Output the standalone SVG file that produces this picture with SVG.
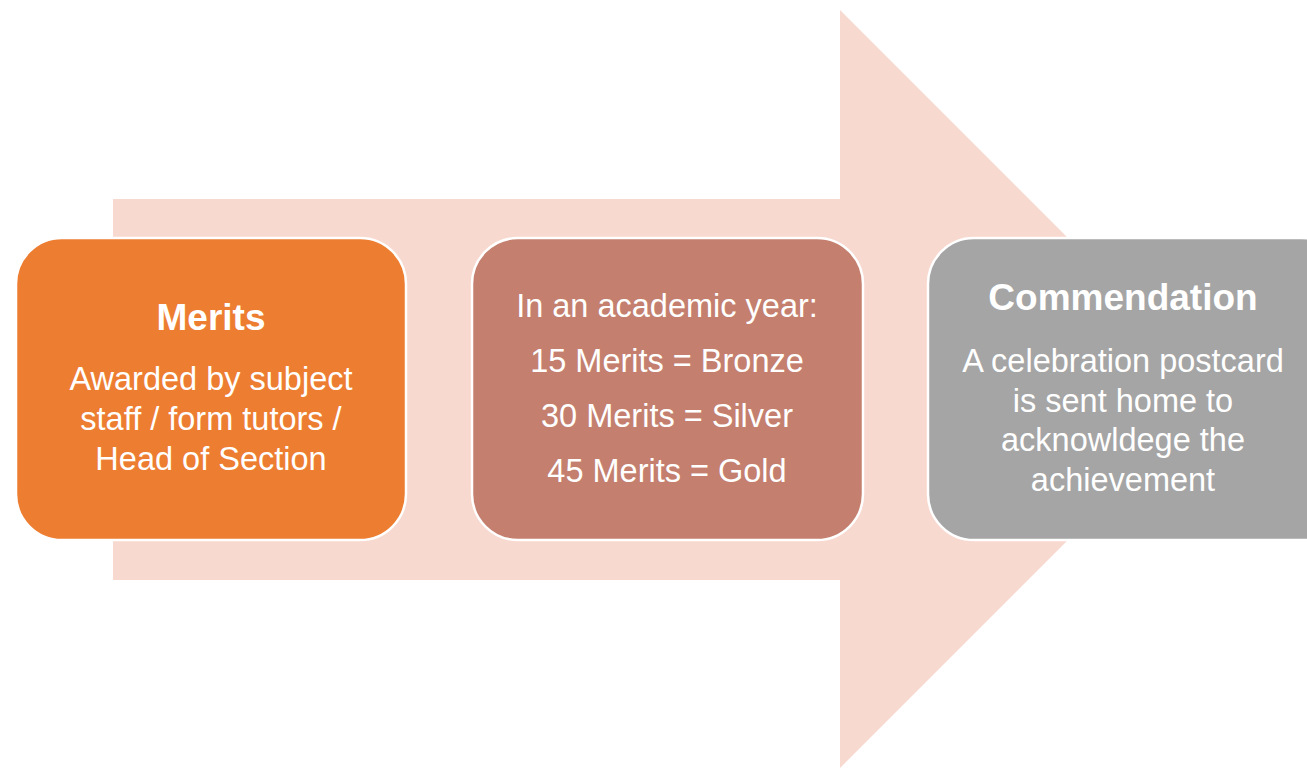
<svg xmlns="http://www.w3.org/2000/svg" width="1307" height="770" viewBox="0 0 1307 770">
  <style>
    .box { stroke: #ffffff; stroke-width: 2.5; }
    .t { font-family: "Liberation Sans", Arial, sans-serif; fill: #ffffff; text-anchor: middle; }
    .title { font-size: 37px; font-weight: bold; }
    .body { font-size: 32.5px; }
  </style>
  <rect width="1307" height="770" fill="#ffffff"/>
  <g id="connectors">
    <polygon id="big-arrow" points="113,199 840,199 840,10 1219,389 840,768 840,580 113,580" fill="#F8D9CF"/>
  </g>
  <g id="node-merits">
    <rect class="box" x="16" y="238" width="390" height="302" rx="46" ry="46" fill="#ED7D31"/>
    <text class="t title" x="211" y="330">Merits</text>
    <text class="t body" x="211" y="390">Awarded by subject</text>
    <text class="t body" x="211" y="430">staff / form tutors /</text>
    <text class="t body" x="211" y="470">Head of Section</text>
  </g>
  <g id="node-year">
    <rect class="box" x="472" y="238" width="391" height="302" rx="46" ry="46" fill="#C47F6E"/>
    <text class="t body" x="667" y="317">In an academic year:</text>
    <text class="t body" x="667" y="372">15 Merits = Bronze</text>
    <text class="t body" x="667" y="427">30 Merits = Silver</text>
    <text class="t body" x="667" y="482">45 Merits = Gold</text>
  </g>
  <g id="node-commendation">
    <rect class="box" x="928" y="238" width="420" height="302" rx="46" ry="46" fill="#A5A5A5"/>
    <text class="t title" x="1123" y="310">Commendation</text>
    <text class="t body" x="1123" y="372">A celebration postcard</text>
    <text class="t body" x="1123" y="412">is sent home to</text>
    <text class="t body" x="1123" y="451">acknowldege the</text>
    <text class="t body" x="1123" y="491">achievement</text>
  </g>
</svg>
